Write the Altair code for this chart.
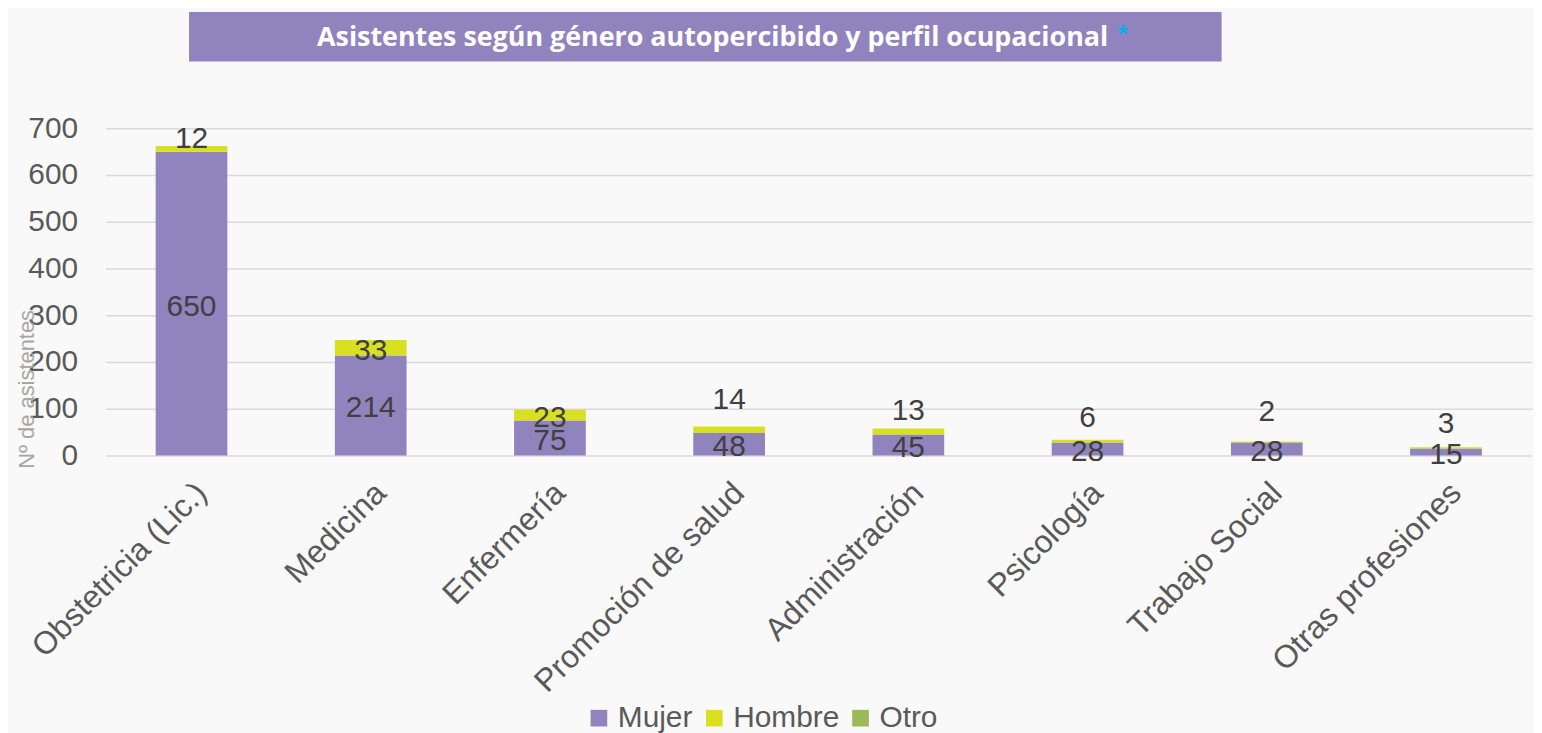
import altair as alt
import pandas as pd

categorias = ["Obstetricia (Lic.)", "Medicina", "Enfermería", "Promoción de salud",
              "Administración", "Psicología", "Trabajo Social", "Otras profesiones"]
mujer = [650, 214, 75, 48, 45, 28, 28, 15]
hombre = [12, 33, 23, 14, 13, 6, 2, 3]
otro = [0, 0, 0, 0, 0, 0, 0, 0]
# where the Hombre labels sit in the picture (value units)
hombre_label_at = [676, 223, 81, 119, 96, 81, 94, 68]

generos = ["Mujer", "Hombre", "Otro"]
colores = ["#9183BE", "#D8E021", "#9BBB59"]

rows = []
for i, c in enumerate(categorias):
    base = 0
    for g, vals, o in [("Mujer", mujer, 0), ("Hombre", hombre, 1), ("Otro", otro, 2)]:
        v = vals[i]
        rows.append({"cat": c, "genero": g, "valor": v, "orden": o,
                     "y0": base, "y1": base + v})
        base += v
df = pd.DataFrame(rows)

lab_m = pd.DataFrame({"cat": categorias, "valor": mujer,
                      "pos": [v / 2 for v in mujer]})
lab_h = pd.DataFrame({"cat": categorias, "valor": hombre, "pos": hombre_label_at})

FONT = "Liberation Sans"
FS = 30
xsc = alt.Scale(domain=categorias, paddingInner=0.6, paddingOuter=0.28)
ysc = alt.Scale(domain=[0, 700], nice=False)

bars = alt.Chart(df).mark_bar().encode(
    x=alt.X("cat:N", scale=xsc, sort=categorias,
            axis=alt.Axis(title=None, labelAngle=-45, labelFontSize=32,
                          labelColor="#595959", labelFont=FONT, domain=False,
                          ticks=False, labelPadding=32, labelOffset=10, labelLimit=0,
                          labelAlign="right", labelBaseline="middle")),
    y=alt.Y("y0:Q", scale=ysc,
            axis=alt.Axis(title="Nº de asistentes", values=list(range(0, 701, 100)),
                          labelFontSize=FS, labelColor="#595959", labelFont=FONT,
                          domain=False, ticks=False, labelPadding=28,
                          gridColor="#d9d9d9", gridWidth=1.5,
                          titleFontSize=22, titleFont=FONT, titleColor="#a6a6a6",
                          titleFontWeight="normal", titleX=-79, titleY=262,
                          titleAlign="center", titleBaseline="middle", titleAngle=270)),
    y2="y1:Q",
    color=alt.Color("genero:N", scale=alt.Scale(domain=generos, range=colores),
                    sort=generos,
                    legend=alt.Legend(title=None, orient="none", direction="horizontal",
                                      legendX=481, legendY=578, symbolType="square",
                                      symbolSize=280, symbolStrokeWidth=0,
                                      labelFontSize=FS, labelFont=FONT,
                                      labelColor="#595959", columnPadding=6,
                                      labelOffset=4, symbolOpacity=1)),
)

txt_m = alt.Chart(lab_m).mark_text(fontSize=FS, font=FONT, color="#404040",
                                   baseline="middle", dy=3).encode(
    x=alt.X("cat:N", scale=xsc, sort=categorias),
    y=alt.Y("pos:Q", scale=ysc),
    text="valor:Q",
)
txt_h = alt.Chart(lab_h).mark_text(fontSize=FS, font=FONT, color="#404040",
                                   baseline="middle").encode(
    x=alt.X("cat:N", scale=xsc, sort=categorias),
    y=alt.Y("pos:Q", scale=ysc),
    text="valor:Q",
)

title_box = alt.Chart(pd.DataFrame({"t": [1]})).mark_rect(color="#9184BE").encode(
    x=alt.value(84), x2=alt.value(1122), y=alt.value(-117), y2=alt.value(-67))
title_txt = alt.Chart(pd.DataFrame({"t": ["Asistentes según género autopercibido  y perfil ocupacional"]})).mark_text(
    font="Open Sans", fontSize=27, fontWeight="bold", color="white",
    align="right", baseline="middle").encode(
    x=alt.value(1008), y=alt.value(-91), text="t:N")
star = alt.Chart(pd.DataFrame({"t": ["*"]})).mark_text(
    font="Open Sans", fontSize=20, fontWeight="bold", color="#00B0F0",
    align="left", baseline="middle").encode(
    x=alt.value(1017), y=alt.value(-95), text="t:N")

chart = alt.layer(bars, txt_m, txt_h, title_box, title_txt, star).properties(
    width=1434, height=329,
    autosize=alt.AutoSizeParams(type="none"),
    padding={"left": 98, "top": 119, "right": 2, "bottom": 277},
    background="#f9f9f9",
).configure_view(stroke=None)

chart.save("out.html", embed_options={"renderer": "svg", "actions": False})
